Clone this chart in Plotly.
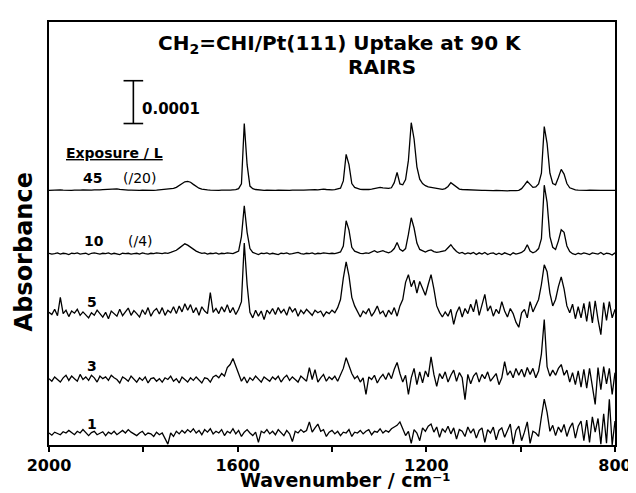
import plotly.graph_objects as go

# Sampling grid of the spectra (cm^-1), 6 cm^-1 steps from 2000 down to 800
wavenumber = list(range(2000, 799, -6))

# Displayed absorbance of each spectrum, in units of 1e-5 (after the /20 and /4 scaling)
exp45 = [0.0, 0.05, 0.0, 0.05, 0.1, 0.05, 0.0, 0.05, 0.0, 0.05,
         0.0, 0.05, 0.1, 0.05, 0.0, 0.05, 0.1, 0.05, 0.1, 0.15,
         0.2, 0.3, 0.4, 0.4, 0.35, 0.25, 0.15, 0.1, 0.05, 0.05,
         0.0, 0.05, 0.0, 0.05, 0.0, 0.0, 0.05, 0.0, 0.05, 0.1,
         0.1, 0.15, 0.2, 0.3, 0.45, 0.7, 1.1, 1.6, 2.0, 2.1,
         1.9, 1.4, 0.9, 0.5, 0.3, 0.15, 0.1, 0.05, 0.0, 0.05,
         0.0, 0.05, 0.0, 0.05, 0.05, 0.1, 0.15, 0.4, 1.5, 15.6,
         6.0, 1.0, 0.4, 0.2, 0.1, 0.05, 0.0, 0.05, 0.0, 0.05,
         0.0, 0.05, 0.0, 0.05, 0.05, 0.0, 0.05, 0.0, 0.05, 0.05,
         0.05, 0.1, 0.15, 0.25, 0.15, 0.1, 0.2, 0.3, 0.2, 0.1,
         0.1, 0.15, 0.25, 0.5, 2.2, 8.4, 6.0, 1.6, 0.7, 0.4,
         0.25, 0.2, 0.15, 0.2, 0.3, 0.45, 0.6, 0.7, 0.6, 0.5,
         0.45, 0.6, 1.8, 4.2, 1.5, 1.3, 2.5, 7.0, 15.8, 12.0,
         5.5, 2.6, 1.6, 1.1, 0.8, 0.7, 0.6, 0.4, 0.3, 0.25,
         0.4, 0.9, 1.8, 1.3, 0.6, 0.3, 0.2, 0.15, 0.25, 0.15,
         0.1, 0.1, 0.05, 0.0, 0.0, -0.05, 0.0, -0.05, 0.0, -0.05,
         -0.05, -0.1, -0.1, -0.05, -0.1, -0.05, 0.0, 0.4, 1.2, 2.1,
         1.4, 0.7, 0.8, 1.5, 4.0, 14.9, 11.0, 4.0, 1.6, 1.3,
         3.0, 4.9, 3.8, 1.6, 0.6, 0.25, 0.1, 0.05, 0.0, 0.05,
         0.0, 0.05, 0.0, 0.0, 0.05, 0.0, 0.0, 0.05, 0.0, 0.0, 0.0]

exp10 = [0.1, -0.1, 0.0, 0.2, -0.1, 0.1, 0.0, -0.2, 0.1, 0.0,
         0.2, -0.1, 0.0, 0.1, -0.2, 0.1, 0.2, 0.0, -0.1, 0.1,
         0.0, 0.2, -0.1, 0.1, 0.0, -0.2, 0.1, 0.0, 0.1, -0.1,
         0.0, 0.1, -0.1, 0.2, 0.0, -0.1, 0.1, 0.0, 0.2, 0.1,
         0.0, 0.2, 0.1, 0.3, 0.5, 0.8, 1.3, 1.9, 2.3, 2.0,
         1.5, 1.0, 0.6, 0.3, 0.1, 0.2, -0.1, 0.1, 0.0, 0.2,
         -0.1, 0.1, 0.0, 0.2, 0.1, 0.0, 0.3, 0.6, 4.0, 11.2,
         5.0, 1.2, 0.3, 0.0, -0.2, 0.1, 0.0, 0.2, -0.1, 0.1,
         0.0, -0.2, 0.1, 0.0, 0.2, -0.1, 0.0, 0.1, 0.3, 0.0,
         -0.1, 0.1, 0.0, 0.2, -0.1, 0.1, 0.0, 0.2, 0.1, 0.0,
         0.1, 0.0, 0.2, 0.4, 1.8, 7.7, 5.5, 1.5, 0.6, 0.3,
         0.1, 0.0, 0.2, 0.1, 0.4, 0.7, 0.3, 0.5, 0.7, 0.4,
         0.2, 0.5, 1.2, 2.6, 1.0, 0.6, 1.2, 4.5, 8.4, 6.0,
         2.5, 1.0, 0.6, 0.4, 0.7, 0.9, 0.5, 0.3, 0.4, 0.5,
         0.7, 1.4, 2.1, 1.2, 0.5, 0.1, 0.3, -0.1, 0.2, 0.0,
         0.3, -0.2, 0.2, -0.1, 0.3, -0.2, 0.1, 0.2, -0.2, 0.1,
         -0.2, 0.2, 0.0, -0.3, 0.2, -0.1, 0.1, 0.3, 0.8, 2.1,
         0.6, 0.2, 0.5, 1.2, 3.5, 16.0, 12.0, 4.0, 1.5, 1.0,
         3.0, 5.6, 5.0, 1.8, 0.5, 0.0, -0.2, 0.1, -0.1, 0.2,
         0.0, -0.2, 0.2, 0.0, -0.1, 0.3, -0.2, 0.1, 0.0, -0.3, 0.2]

exp5 = [0.5, 0.0, 1.2, -0.3, 4.0, 0.2, 1.0, -0.5, 0.8, 0.3,
        1.2, -0.2, 0.6, 0.0, -0.8, 0.4, -0.2, 1.0, 0.3, -0.6,
        0.5, -1.0, 0.8, 0.2, -0.4, 1.2, -0.3, 0.6, 1.5, -0.2,
        0.9, 0.2, -0.6, 1.1, 0.0, 1.6, -0.4, 0.8, 1.4, 0.1,
        1.6, -0.2, 1.0, 0.4, 1.8, 0.2, 2.0, 0.6, 2.5, 1.0,
        2.3, 0.4, 1.6, -0.2, 1.8, 0.8, 0.2, 5.1, 0.5, 1.4,
        0.2, 1.8, 0.6, 2.3, 0.4, 1.6, 0.0, 1.2, 3.0, 16.7,
        7.0, 0.5, -0.8, 1.0, -0.4, 0.8, -1.2, 1.0, 0.2, 1.4,
        0.0, 1.6, 0.4, 1.2, -0.2, 1.8, 0.6, 1.4, -0.4, 1.0,
        0.2, 1.2, 0.6, -0.2, 1.0, 0.4, 0.8, -0.4, 0.6, 0.2,
        1.0, 0.4, 1.6, 3.5, 8.5, 12.3, 9.0, 4.0, 2.0, 0.6,
        -0.6, 0.8, 0.2, 1.4, -0.4, 0.6, 2.0, 0.2, 0.8, -0.6,
        1.0, 0.0, 1.6, -0.4, 2.0, 3.5, 7.5, 9.3, 6.5, 8.0,
        5.0, 7.7, 6.0, 4.5, 7.0, 9.3, 6.0, 2.0, 0.5, -0.6,
        0.6, -0.4, 1.2, -2.3, 0.4, 1.8, -0.6, 1.4, 0.2, 2.4,
        0.6, 3.5, -0.2, 2.6, 4.7, 0.8, 2.0, -0.4, 1.2, 0.2,
        3.0, 0.8, -0.6, 1.4, 0.2, -1.8, -3.0, 0.4, 1.2, -0.8,
        3.0, 0.6, 2.0, 3.5, 7.0, 11.6, 10.0, 5.0, 2.0, 3.5,
        6.5, 8.8, 6.0, 2.0, 0.4, 2.4, -1.0, 1.8, -0.8, 2.6,
        -1.6, 3.0, -2.0, 3.2, -1.2, -4.7, 2.8, -1.4, 3.0, -0.8, 1.2]

exp3 = [0.2, -0.4, 0.6, 0.0, -0.6, 0.4, 1.0, -0.2, 0.8, 0.2,
        -0.4, 1.2, 0.0, 0.6, -0.2, 1.0, 0.4, -0.6, 0.8, 0.2,
        0.6, -0.2, 1.0, 0.4, 0.0, -0.8, 0.6, 0.2, -0.4, 0.8,
        0.0, -0.6, 0.4, -0.2, 0.6, -0.8, 0.2, 0.4, -0.4, 0.2,
        -0.6, 0.4, 0.0, 0.8, -0.4, 0.2, -0.8, 0.6, 0.0, -0.6,
        0.4, -0.2, 0.6, 0.0, -0.8, 0.4, 0.2, -0.6, 0.6, 1.0,
        0.4, 1.4, 0.8, 2.8, 3.5, 4.9, 3.0, 1.2, -0.4, 0.6,
        -0.8, 0.4, -0.2, 0.8, 0.0, -0.6, 0.6, 0.2, -0.4, 0.6,
        0.0, 0.8, -0.6, 0.4, 1.0, -0.2, 0.6, 0.0, -0.6, 0.8,
        0.2, -0.4, 2.8, 0.0, 2.3, -0.6, 0.4, 1.2, -0.4, 0.6,
        0.0, 0.8, -0.4, 1.2, 2.6, 5.1, 3.0, 1.4, 0.2, 0.8,
        -0.6, 0.4, -3.5, 0.6, 0.0, 1.0, -0.8, 0.4, 1.2, 0.0,
        1.6, 0.2, 2.4, 4.0, 1.4, -0.6, 1.0, -3.5, 0.4, 2.6,
        -1.2, 1.8, -0.8, 2.0, 0.6, 5.3, 1.2, -1.6, 1.4, 0.2,
        1.8, -0.6, 1.0, 2.2, -0.4, 1.6, 0.4, -4.7, 1.2, -1.0,
        0.8, 1.6, -0.6, 1.2, 0.2, 1.8, -0.4, 0.6, 1.4, -1.2,
        0.4, 4.2, 1.0, 2.0, 0.4, 2.6, 1.0, 2.4, 0.6, 2.8,
        1.2, 2.6, 0.4, 2.0, 6.0, 14.0, 3.0, 0.8, 2.2, 1.0,
        2.6, 3.5, 1.0, 2.2, -0.6, 1.6, -1.2, 2.0, -1.8, 2.4,
        -2.0, 2.6, -1.4, -5.8, 2.8, -2.4, 3.0, -1.0, 2.6, -3.5, 1.6]

exp1 = [0.2, -0.3, 0.4, 0.0, -0.2, 0.5, 0.2, 0.8, 0.3, -0.2,
        0.6, 0.2, 1.0, 0.4, -0.4, 0.3, 0.6, -0.2, 0.2, 0.5,
        -0.4, 0.4, 0.0, 0.6, -0.2, 0.3, 0.8, 0.2, 1.0, 0.4,
        0.0, -0.4, 0.2, 0.6, -0.3, 0.2, 0.0, -0.6, 0.4, -0.2,
        0.2, -1.0, -2.4, 0.2, -0.6, 0.6, 0.0, 0.8, 0.2, 1.0,
        0.4, 1.2, 0.2, 0.8, -0.2, 1.0, 0.4, 1.2, 0.0, 0.6,
        0.2, 1.0, -0.4, 0.6, 0.2, 1.2, 0.0, 0.8, -0.6, 0.4,
        1.0, 0.2, -0.4, 0.4, -2.0, 0.6, 0.2, 1.0, 0.0, 0.6,
        -0.2, 1.0, 0.4, -0.4, 0.8, 0.0, -1.8, 0.6, 0.2, 1.0,
        0.4, 0.8, 2.8, 0.4, 1.4, 2.3, 0.6, 1.0, -0.6, 0.4,
        0.8, 0.0, 0.6, -0.4, 0.4, 0.2, 1.0, -0.6, 0.4, 0.2,
        0.8, 0.0, 0.6, 1.0, -0.2, 0.6, 0.4, 1.2, 0.2, 0.8,
        0.4, 1.2, 1.6, 2.0, 2.8, 1.0, -0.4, 0.6, -2.2, 1.0,
        0.2, -1.6, 1.4, 0.6, 1.8, 2.3, 0.4, 1.6, -0.8, 1.2,
        0.4, 1.8, 0.0, 1.4, -1.2, 1.0, 0.6, -0.6, 1.6, 0.2,
        1.2, -1.0, 0.8, 1.4, -2.0, 1.0, 0.2, 1.6, -1.4, 0.8,
        1.4, -0.8, 0.6, 2.3, -2.4, 0.8, 1.8, -1.6, 0.4, 2.8,
        -2.2, 0.6, 0.2, -0.6, 4.0, 8.1, 5.0, 0.6, 2.0, -0.4,
        1.6, 0.4, 2.2, -0.6, 1.4, 2.6, -1.0, 1.8, 3.0, -1.6,
        3.2, -2.0, 4.0, 0.4, 3.6, -2.4, 4.7, -2.2, 8.1, -2.6, 3.0]

spectra = [exp45, exp10, exp5, exp3, exp1]
exposure_labels = ["45", "10", "5", "3", "1"]
scale_notes = ["(/20)", "(/4)", "", "", ""]
# vertical stacking offsets of the spectra (1e-5 absorbance units)
offsets = [59.5, 44.7, 30.5, 15.3, 2.6]

xtick_vals = [2000, 1800, 1600, 1400, 1200, 1000, 800]
xtick_text = ["2000", " ", "1600", " ", "1200", " ", "800"]

# ---- layout geometry (pixels) ----
W, H = 636, 493
L, R, T, B = 41, 618, 12, 437
Y_TOP = (B - T) / 4.3  # 4.3 px per 1e-5 absorbance


def px(x):
    return (x - L) / (R - L)


def py(y):
    return (B - y) / (B - T)


fig = go.Figure()
for vals, off in zip(spectra, offsets):
    fig.add_trace(go.Scatter(
        x=wavenumber, y=[v + off for v in vals], mode="lines",
        line=dict(color="black", width=1.3), showlegend=False,
        hoverinfo="skip"))

bold = "DejaVu Sans"
annos = []
annos.append(dict(x=px(338), y=py(34), text="<b>CH<sub>2</sub>=CHI/Pt(111) Uptake at 90 K</b>",
                  font=dict(family=bold, size=20, color="black")))
annos.append(dict(x=px(380), y=py(57), text="<b>RAIRS</b>",
                  font=dict(family=bold, size=20, color="black")))
annos.append(dict(x=px(134), y=py(99), text="<b>0.0001</b>", xanchor="left",
                  font=dict(family=bold, size=15, color="black")))
annos.append(dict(x=px(56), y=py(144), text="<b><u>Exposure / L</u></b>", xanchor="left",
                  font=dict(family=bold, size=14, color="black")))
label_pos = [(85, 169), (87, 232), (85, 293), (85, 358), (85, 416)]
note_pos = [(133, 169), (134, 232), None, None, None]
for lab, (lx, ly) in zip(exposure_labels, label_pos):
    annos.append(dict(x=px(lx), y=py(ly), text="<b>" + lab + "</b>",
                      font=dict(family=bold, size=14, color="black")))
for note, pos in zip(scale_notes, note_pos):
    if note:
        annos.append(dict(x=px(pos[0]), y=py(pos[1]), text=note,
                          font=dict(family=bold, size=14, color="black")))
annos.append(dict(x=px(343), y=py(472),
                  text="<b>Wavenumber / cm\u207b\u00b9</b>",
                  font=dict(family=bold, size=19, color="black")))
annos.append(dict(x=px(15), y=py(243), text="<b>Absorbance</b>", textangle=-90,
                  font=dict(family=bold, size=24, color="black")))
for a in annos:
    a.update(xref="paper", yref="paper", showarrow=False)
    a.setdefault("xanchor", "center")
    a.setdefault("yanchor", "middle")

# scale bar: 0.0001 absorbance = 10 units of 1e-5
bar_base = (B - 114) / 4.3
bar_top = bar_base + 10
bar_x = 2000 - (127 - L) * 1200 / (R - L)
serif = 10 * 1200 / (R - L)
shapes = [
    dict(type="line", xref="x", yref="y", x0=bar_x, x1=bar_x, y0=bar_base, y1=bar_top,
         line=dict(color="black", width=1.6)),
    dict(type="line", xref="x", yref="y", x0=bar_x - serif, x1=bar_x + serif, y0=bar_top, y1=bar_top,
         line=dict(color="black", width=1.6)),
    dict(type="line", xref="x", yref="y", x0=bar_x - serif, x1=bar_x + serif, y0=bar_base, y1=bar_base,
         line=dict(color="black", width=1.6)),
]

fig.update_layout(
    width=W, height=H,
    margin=dict(l=L, r=W - R, t=T, b=H - B, pad=0),
    paper_bgcolor="white", plot_bgcolor="white",
    annotations=annos, shapes=shapes,
    xaxis=dict(range=[2000, 800], showgrid=False, zeroline=False,
               showline=True, mirror=True, linecolor="black", linewidth=1.8,
               ticks="outside", ticklen=5, tickwidth=1.6, tickcolor="black",
               tickvals=xtick_vals, ticktext=xtick_text,
               tickfont=dict(family=bold, size=16, color="black", weight="bold")),
    yaxis=dict(range=[0, Y_TOP], showgrid=False, zeroline=False,
               showline=True, mirror=True, linecolor="black", linewidth=1.8,
               showticklabels=False, ticks=""),
)

fig.write_html("out.html")
